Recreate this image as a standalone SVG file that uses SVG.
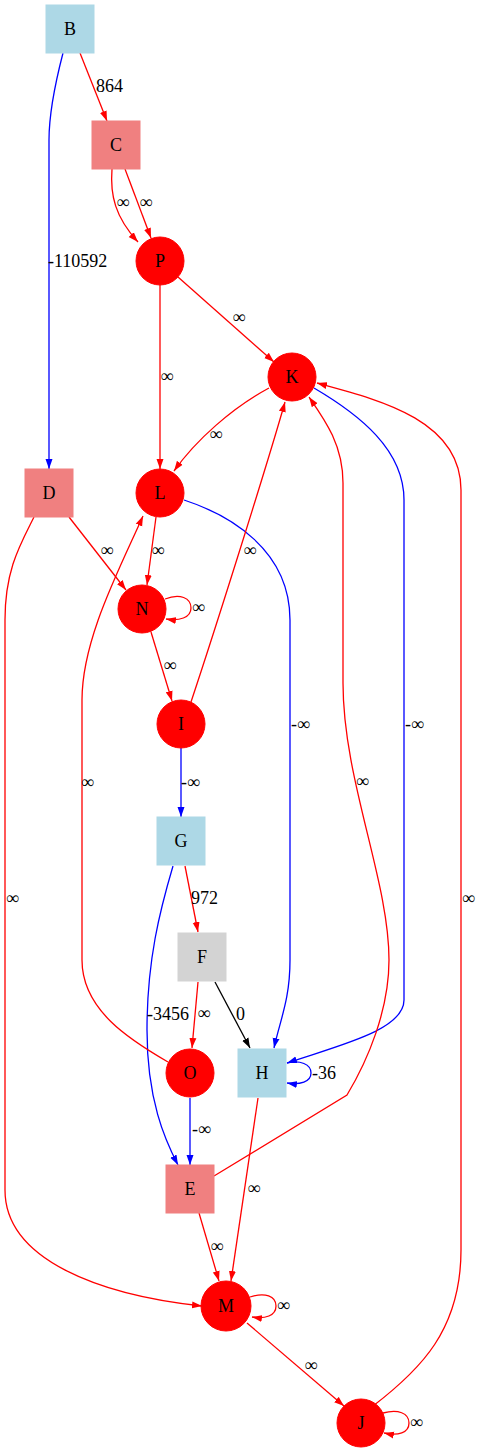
<svg xmlns="http://www.w3.org/2000/svg" width="480" height="1453" viewBox="0 0 480 1453">
<style>
text{font-family:"Liberation Serif","Times New Roman",serif;font-size:18px;fill:#000}
.n{text-anchor:middle}
.lb{fill:#add8e6;stroke:#add8e6}
.lc{fill:#f08080;stroke:#f08080}
.lg{fill:#d3d3d3;stroke:#d3d3d3}
.rc{fill:#ff0000;stroke:#ff0000}
.e{fill:none;stroke-width:1.3}
.r{stroke:#ff0000;marker-end:url(#ar)}
.b{stroke:#0000ff;marker-end:url(#ab)}
.k{stroke:#000000;marker-end:url(#ak)}
.m{text-anchor:middle}
</style>
<defs>
<marker id="ar" markerUnits="userSpaceOnUse" markerWidth="10" markerHeight="8" refX="10" refY="4" orient="auto"><path d="M0,0.5 L10,4 L0,7.5 z" fill="#ff0000"/></marker>
<marker id="ab" markerUnits="userSpaceOnUse" markerWidth="10" markerHeight="8" refX="10" refY="4" orient="auto"><path d="M0,0.5 L10,4 L0,7.5 z" fill="#0000ff"/></marker>
<marker id="ak" markerUnits="userSpaceOnUse" markerWidth="10" markerHeight="8" refX="10" refY="4" orient="auto"><path d="M0,0.5 L10,4 L0,7.5 z" fill="#000000"/></marker>
</defs>
<g id="edges">
<path class="e r" d="M80,53 L107,121"/>
<text x="96" y="92">864</text>
<path class="e b" d="M63,53 C56,80 49,110 49,140 L49,469"/>
<text x="48" y="267">-110592</text>
<path class="e r" d="M112,169 C110,195 115,217 138,242"/>
<text class="m" x="123" y="208">∞</text>
<path class="e r" d="M125,169 L151,238"/>
<text class="m" x="146" y="208">∞</text>
<path class="e r" d="M178,277 L274,362"/>
<text class="m" x="239" y="323">∞</text>
<path class="e r" d="M160,285 L160,469"/>
<text class="m" x="167" y="382">∞</text>
<path class="e r" d="M269,388 C232,408 196,440 174,471"/>
<text class="m" x="216" y="440">∞</text>
<path class="e b" d="M314,388 C360,415 404,450 404,500 L404,1000 C404,1030 340,1045 287,1063"/>
<text x="405" y="730">-∞</text>
<path class="e r" d="M373,1406 C420,1370 461,1330 461,1250 L461,490 C461,420 380,400 317,383"/>
<text x="462" y="904">∞</text>
<path class="e r" d="M214,1176 L347,1095 C368,1060 389,1010 389,960 C389,880 343,780 343,683 L343,483 C343,445 325,420 309,397"/>
<text x="356" y="787">∞</text>
<path class="e b" d="M184,500 C230,515 290,550 290,620 L290,960 C290,1000 280,1020 274,1048"/>
<text x="291" y="730">-∞</text>
<path class="e r" d="M69,517 L126,590"/>
<text class="m" x="107" y="556">∞</text>
<path class="e r" d="M34,517 C20,545 5,570 5,620 L5,1190 C5,1260 100,1295 202,1306"/>
<text x="6" y="904">∞</text>
<path class="e r" d="M156,517 L147,585"/>
<text class="m" x="158" y="556">∞</text>
<path class="e r" d="M165,599 C180,593 191,598 191,608 C191,618 179,621 166,619"/>
<text x="192" y="613">∞</text>
<path class="e r" d="M151,632 L172,701"/>
<text class="m" x="170" y="671">∞</text>
<path class="e r" d="M191,702 C215,630 268,462 285,402"/>
<text class="m" x="250" y="556">∞</text>
<path class="e b" d="M181,748 L181,817"/>
<text x="181" y="788">-∞</text>
<path class="e r" d="M185,866 L198,932"/>
<text x="191" y="904">972</text>
<path class="e b" d="M173,866 C160,910 147,960 147,1030 C147,1100 165,1140 178,1165"/>
<text x="147" y="1020">-3456</text>
<path class="e r" d="M198,982 L192,1048"/>
<text class="m" x="204" y="1019">∞</text>
<path class="e k" d="M215,982 L250,1048"/>
<text x="236" y="1020">0</text>
<path class="e r" d="M168,1062 C130,1040 82,1010 82,960 L82,700 C82,640 118,572 143,516"/>
<text x="81" y="788">∞</text>
<path class="e b" d="M190,1098 L190,1165"/>
<text x="192" y="1135">-∞</text>
<path class="e b" d="M287,1063 C300,1060 311,1064 311,1073 C311,1082 300,1085 287,1083"/>
<text x="312" y="1079">-36</text>
<path class="e r" d="M258,1098 L231,1281"/>
<text class="m" x="254" y="1194">∞</text>
<path class="e r" d="M199,1213 L219,1281"/>
<text class="m" x="217" y="1252">∞</text>
<path class="e r" d="M250,1297 C265,1292 276,1296 276,1306 C276,1316 265,1319 252,1317"/>
<text x="277" y="1311">∞</text>
<path class="e r" d="M247,1323 L344,1406"/>
<text class="m" x="311" y="1371">∞</text>
<path class="e r" d="M383,1413 C398,1409 409,1413 409,1423 C409,1433 398,1436 384,1433"/>
<text x="410" y="1428">∞</text>
</g>
<g id="node-B"><rect class="lb" x="46" y="5" width="48" height="48"/><text class="n" x="70" y="35">B</text></g>
<g id="node-C"><rect class="lc" x="92" y="121" width="48" height="48"/><text class="n" x="116" y="151">C</text></g>
<g id="node-P"><circle class="rc" cx="160" cy="261" r="24"/><text class="n" x="160" y="267">P</text></g>
<g id="node-K"><circle class="rc" cx="292" cy="377" r="24"/><text class="n" x="292" y="383">K</text></g>
<g id="node-L"><circle class="rc" cx="160" cy="493" r="24"/><text class="n" x="160" y="499">L</text></g>
<g id="node-D"><rect class="lc" x="25" y="469" width="48" height="48"/><text class="n" x="49" y="499">D</text></g>
<g id="node-N"><circle class="rc" cx="142" cy="609" r="24"/><text class="n" x="142" y="615">N</text></g>
<g id="node-I"><circle class="rc" cx="181" cy="724" r="24"/><text class="n" x="181" y="730">I</text></g>
<g id="node-G"><rect class="lb" x="157" y="817" width="48" height="48"/><text class="n" x="181" y="847">G</text></g>
<g id="node-F"><rect class="lg" x="178" y="933" width="48" height="48"/><text class="n" x="202" y="963">F</text></g>
<g id="node-O"><circle class="rc" cx="190" cy="1073" r="24"/><text class="n" x="190" y="1079">O</text></g>
<g id="node-H"><rect class="lb" x="238" y="1049" width="48" height="48"/><text class="n" x="262" y="1079">H</text></g>
<g id="node-E"><rect class="lc" x="166" y="1165" width="48" height="48"/><text class="n" x="190" y="1195">E</text></g>
<g id="node-M"><circle class="rc" cx="226" cy="1306" r="25"/><text class="n" x="226" y="1312">M</text></g>
<g id="node-J"><circle class="rc" cx="361" cy="1423" r="24"/><text class="n" x="361" y="1429">J</text></g>
</svg>
